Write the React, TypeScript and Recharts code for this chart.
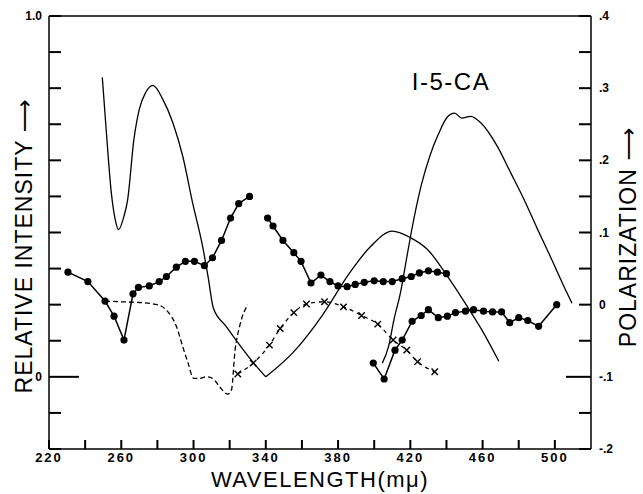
import React from 'react';
import { LineChart, Line, XAxis, YAxis } from 'recharts';

// axis ticks
const wavelengthTicks = [220, 240, 260, 280, 300, 320, 340, 360, 380, 400, 420, 440, 460, 480, 500];
const intensityTicks = [-0.2, -0.1, 0, 0.1, 0.2, 0.3, 0.4, 0.5, 0.6, 0.7, 0.8, 0.9, 1.0];
const polarizationTicks = [-0.2, -0.15, -0.1, -0.05, 0, 0.05, 0.1, 0.15, 0.2, 0.25, 0.3, 0.35, 0.4];

// relative intensity curves (left axis)
const excNm = [249.5, 251.5, 254.5, 256.5, 258.5, 261.5, 263.5, 267, 270, 273.5, 277.5, 283, 288.5, 294, 299.5, 305, 308, 311, 318, 333, 340];
const excInt = [0.83, 0.695, 0.51, 0.44, 0.408, 0.445, 0.49, 0.658, 0.742, 0.788, 0.808, 0.769, 0.705, 0.612, 0.482, 0.362, 0.279, 0.19, 0.14, 0.04, 0];

const fluorNm = [340, 355, 371.5, 386.5, 398, 410, 420, 429.5, 440.5, 451.5, 460.5, 469];
const fluorInt = [0, 0.067, 0.172, 0.289, 0.361, 0.404, 0.386, 0.353, 0.279, 0.195, 0.122, 0.043];

const phosNm = [404.5, 408, 411, 414.5, 418, 420.5, 426, 431, 435.5, 440.5, 444.5, 448.5, 453.5, 459, 468, 475.5, 483, 490.5, 498, 504.5, 509.5];
const phosInt = [0.038, 0.085, 0.16, 0.232, 0.33, 0.4, 0.53, 0.615, 0.672, 0.72, 0.731, 0.717, 0.722, 0.704, 0.64, 0.566, 0.491, 0.408, 0.328, 0.256, 0.204];

// polarization curves (right axis)
const excPolNm = [230.5, 241.5, 251, 256, 261.5, 266.5, 269.5, 275.5, 281, 285, 290.5, 295.5, 300.5, 306, 310.5, 315.5, 320.5, 325, 331];
const excPol = [0.045, 0.032, 0.005, -0.016, -0.049, 0.015, 0.024, 0.026, 0.032, 0.039, 0.052, 0.06, 0.06, 0.054, 0.065, 0.089, 0.12, 0.14, 0.15];

const emPolNm = [341, 344, 349.5, 355.5, 359.5, 365, 370.5, 375.5, 380, 385, 389.5, 394.5, 400, 405, 410, 415.5, 420.5, 425, 430, 435, 440];
const emPol = [0.12, 0.109, 0.089, 0.072, 0.06, 0.03, 0.041, 0.032, 0.026, 0.025, 0.028, 0.031, 0.033, 0.032, 0.032, 0.036, 0.039, 0.044, 0.047, 0.045, 0.043];

const phosPolNm = [399.5, 405.5, 411.5, 415.5, 421, 426, 430, 435.5, 440.5, 445, 450.5, 455, 460.5, 465.5, 470.5, 475, 480, 485, 491, 501];
const phosPol = [-0.081, -0.103, -0.063, -0.049, -0.023, -0.015, -0.007, -0.018, -0.016, -0.011, -0.009, -0.007, -0.009, -0.01, -0.01, -0.025, -0.018, -0.022, -0.03, 0];

const dashNm = [251, 260, 270, 280, 285.5, 290.5, 294, 297, 300, 303.5, 307, 310.5, 314.5, 319, 321, 323, 325.5, 330];
const dashPol = [0.005, 0.004, 0.003, 0, -0.009, -0.03, -0.058, -0.081, -0.102, -0.102, -0.1, -0.102, -0.114, -0.124, -0.118, -0.063, -0.03, 0];

const crossNm = [324.5, 333, 342, 348, 355.5, 362.5, 372.5, 383, 393, 402, 410.5, 418, 424, 433.5];
const crossPol = [-0.096, -0.081, -0.056, -0.033, -0.011, 0.001, 0.004, -0.003, -0.015, -0.027, -0.049, -0.063, -0.079, -0.093];

const pts = (xs: number[], ys: number[]) => xs.map((nm, i) => ({ nm, v: ys[i] }));

const font = 'Liberation Sans, Arial, sans-serif';
const arrowFont = 'DejaVu Sans, sans-serif';

// mirrored axes: tick lines point into the plot; x/y given here are the inner tick ends
const BottomTick = (p: any) => {
  const { x, y, payload } = p;
  const show = (payload.value - 220) % 40 === 0;
  if (!show) return <g />;
  return (
    <text x={x} y={y + 9 + 13} textAnchor="middle" fontSize={13} fontWeight="bold" letterSpacing={2} fontFamily={font} fill="#000">
      {payload.value}
    </text>
  );
};

const LeftTick = (p: any) => {
  const { x, y, payload } = p;
  const v = payload.value;
  const label = v === 1 ? '1.0' : v === 0 ? '0' : '';
  return (
    <g>
      {v === 0 && <path d={`M${x},${y}H${x + 18}`} stroke="#000" strokeWidth={2} fill="none" />}
      {label && (
        <text x={x - 12 - 7} y={y + 4} textAnchor="end" fontSize={12} fontWeight="bold" fontFamily={font} fill="#000">
          {label}
        </text>
      )}
    </g>
  );
};

const RightTick = (p: any) => {
  const { x, y, payload } = p;
  const v = payload.value;
  const longTick = Math.abs(v + 0.1) < 1e-6;
  const tenth = Math.abs(Math.round(v * 10) - v * 10) < 1e-6;
  const label = !tenth ? '' : Math.abs(v) < 1e-6 ? '0' : (v < 0 ? '-' : '') + '.' + Math.round(Math.abs(v) * 10);
  return (
    <g>
      {longTick && <path d={`M${x},${y}H${x - 13}`} stroke="#000" strokeWidth={2} fill="none" />}
      {label && (
        <text x={x + 12 + 8} y={y + 4} textAnchor="start" fontSize={12} fontWeight="bold" fontFamily={font} fill="#000">
          {label}
        </text>
      )}
    </g>
  );
};

const XMark = (p: any) => {
  const { cx, cy, index } = p;
  const s = 3.2;
  return (
    <path
      key={`x-${index}`}
      d={`M${cx - s},${cy - s}L${cx + s},${cy + s}M${cx - s},${cy + s}L${cx + s},${cy - s}`}
      stroke="#000"
      strokeWidth={1.4}
      fill="none"
    />
  );
};

const dotStyle = { r: 3.6, fill: '#000', stroke: '#000', strokeWidth: 0 };
const axisLine = { stroke: '#000', strokeWidth: 1.5 };
const tickLine = { stroke: '#000', strokeWidth: 2 };

export default function App() {
  return (
    <div style={{ position: 'absolute', left: 0, top: 0, background: '#fff' }}>
      <LineChart width={643} height={494} margin={{ top: 16, right: 52, bottom: 45, left: 49 }}>
        <XAxis
          xAxisId="bottom"
          dataKey="nm"
          type="number"
          domain={[220, 520]}
          allowDataOverflow
          ticks={wavelengthTicks}
          interval={0}
          height={1}
          mirror
          tickSize={9}
          tickMargin={0}
          tickLine={tickLine}
          tick={BottomTick}
          axisLine={axisLine}
        />
        <XAxis
          xAxisId="top"
          orientation="top"
          dataKey="nm"
          type="number"
          domain={[220, 520]}
          allowDataOverflow
          ticks={wavelengthTicks}
          interval={0}
          height={1}
          mirror
          tickSize={10}
          tickMargin={0}
          tickLine={tickLine}
          tick={false}
          axisLine={axisLine}
        />
        <YAxis
          yAxisId="left"
          type="number"
          domain={[-0.2, 1]}
          allowDataOverflow
          ticks={intensityTicks}
          interval={0}
          width={1}
          mirror
          tickSize={12}
          tickMargin={0}
          tickLine={tickLine}
          tick={LeftTick}
          axisLine={axisLine}
        />
        <YAxis
          yAxisId="right"
          orientation="right"
          type="number"
          domain={[-0.2, 0.4]}
          allowDataOverflow
          ticks={polarizationTicks}
          interval={0}
          width={1}
          mirror
          tickSize={12}
          tickMargin={0}
          tickLine={tickLine}
          tick={RightTick}
          axisLine={axisLine}
        />

        <Line xAxisId="bottom" yAxisId="left" data={pts(excNm, excInt)} dataKey="v" type="monotone" stroke="#000" strokeWidth={1.3} dot={false} activeDot={false} isAnimationActive={false} />
        <Line xAxisId="bottom" yAxisId="left" data={pts(fluorNm, fluorInt)} dataKey="v" type="monotone" stroke="#000" strokeWidth={1.3} dot={false} activeDot={false} isAnimationActive={false} />
        <Line xAxisId="bottom" yAxisId="left" data={pts(phosNm, phosInt)} dataKey="v" type="monotone" stroke="#000" strokeWidth={1.3} dot={false} activeDot={false} isAnimationActive={false} />

        <Line xAxisId="bottom" yAxisId="right" data={pts(dashNm, dashPol)} dataKey="v" type="monotone" stroke="#000" strokeWidth={1.3} strokeDasharray="5 3" dot={false} activeDot={false} isAnimationActive={false} />
        <Line xAxisId="bottom" yAxisId="right" data={pts(crossNm, crossPol)} dataKey="v" type="monotone" stroke="#000" strokeWidth={1.3} strokeDasharray="4 4" dot={XMark} activeDot={false} isAnimationActive={false} />

        <Line xAxisId="bottom" yAxisId="right" data={pts(excPolNm, excPol)} dataKey="v" type="linear" stroke="#000" strokeWidth={1.5} dot={dotStyle} activeDot={false} isAnimationActive={false} />
        <Line xAxisId="bottom" yAxisId="right" data={pts(emPolNm, emPol)} dataKey="v" type="linear" stroke="#000" strokeWidth={1.5} dot={dotStyle} activeDot={false} isAnimationActive={false} />
        <Line xAxisId="bottom" yAxisId="right" data={pts(phosPolNm, phosPol)} dataKey="v" type="linear" stroke="#000" strokeWidth={1.5} dot={dotStyle} activeDot={false} isAnimationActive={false} />

        <text x={451} y={90} textAnchor="middle" fontSize={24} letterSpacing={1.5} fontFamily={font} fill="#000">
          I-5-CA
        </text>
        <text x={320} y={487} textAnchor="middle" fontSize={22} letterSpacing={1.5} fontFamily={font} fill="#000">
          WAVELENGTH(mμ)
        </text>
        <text transform="translate(32,246) rotate(-90)" textAnchor="middle" fontSize={23} letterSpacing={1} fontFamily={font} fill="#000">
          RELATIVE INTENSITY <tspan fontFamily={arrowFont}>⟶</tspan>
        </text>
        <text transform="translate(636,237) rotate(-90)" textAnchor="middle" fontSize={23} letterSpacing={1} fontFamily={font} fill="#000">
          POLARIZATION <tspan fontFamily={arrowFont}>⟶</tspan>
        </text>
      </LineChart>
    </div>
  );
}
